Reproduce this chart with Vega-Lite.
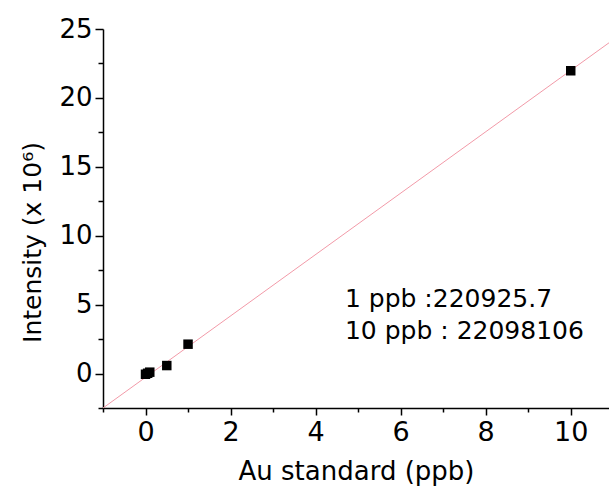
{
  "$schema": "https://vega.github.io/schema/vega-lite/v6.json",
  "width": 506,
  "height": 379,
  "autosize": {"type": "none"},
  "padding": {"left": 103, "top": 29, "right": 0, "bottom": 79},
  "background": "white",
  "config": {
    "view": {"stroke": null},
    "font": "DejaVu Sans",
    "axis": {
      "grid": false,
      "domainColor": "black",
      "tickColor": "black",
      "labelColor": "black",
      "titleColor": "black",
      "labelFont": "DejaVu Sans",
      "titleFont": "DejaVu Sans",
      "titleFontWeight": "normal",
      "domainWidth": 1.5,
      "tickWidth": 1.5
    }
  },
  "datasets": {
    "points": [
      {"conc": 0, "intensity": -0.05},
      {"conc": 0.05, "intensity": 0.02},
      {"conc": 0.1, "intensity": 0.1},
      {"conc": 0.5, "intensity": 0.58},
      {"conc": 1, "intensity": 2.13},
      {"conc": 10, "intensity": 21.97}
    ],
    "fit": [
      {"conc": -1, "intensity": -2.5},
      {"conc": 10.9, "intensity": 24.0}
    ],
    "notes": [
      {"conc": 4.69, "intensity": 4.81, "label": "1 ppb :220925.7"},
      {"conc": 4.69, "intensity": 2.54, "label": "10 ppb : 22098106"}
    ]
  },
  "layer": [
    {
      "data": {"name": "fit"},
      "mark": {"type": "line", "color": "#f29aa8", "strokeWidth": 1, "clip": true},
      "encoding": {
        "x": {
          "field": "conc", "type": "quantitative",
          "scale": {"domain": [-1, 10.9], "nice": false, "zero": false},
          "axis": {"orient": "bottom", "values": [0, 2, 4, 6, 8, 10], "tickSize": 7, "labelFontSize": 27, "labelPadding": 4, "title": "Au standard (ppb)", "titleFontSize": 26, "titleY": 50}
        },
        "y": {
          "field": "intensity", "type": "quantitative",
          "scale": {"domain": [-2.5, 25], "nice": false, "zero": false},
          "axis": {"orient": "left", "values": [0, 5, 10, 15, 20, 25], "tickSize": 8, "labelFontSize": 26, "labelPadding": 3, "title": "Intensity (x 10⁶)", "titleFontSize": 25, "titleX": -58, "titleY": 213}
        }
      }
    },
    {
      "data": {"name": "points"},
      "mark": {"type": "square", "size": 90, "color": "black", "opacity": 1},
      "encoding": {
        "x": {
          "field": "conc", "type": "quantitative",
          "axis": {"orient": "bottom", "values": [-1, 1, 3, 5, 7, 9], "tickSize": 4, "labels": false, "domain": false, "title": null}
        },
        "y": {
          "field": "intensity", "type": "quantitative",
          "axis": {"orient": "left", "values": [-2.5, 2.5, 7.5, 12.5, 17.5, 22.5], "tickSize": 5, "labels": false, "domain": false, "title": null}
        }
      }
    },
    {
      "data": {"name": "notes"},
      "mark": {"type": "text", "align": "left", "baseline": "alphabetic", "fontSize": 25, "font": "DejaVu Sans", "color": "black"},
      "encoding": {
        "x": {"field": "conc", "type": "quantitative", "axis": null},
        "y": {"field": "intensity", "type": "quantitative", "axis": null},
        "text": {"field": "label"}
      }
    }
  ],
  "resolve": {"axis": {"x": "independent", "y": "independent"}}
}
